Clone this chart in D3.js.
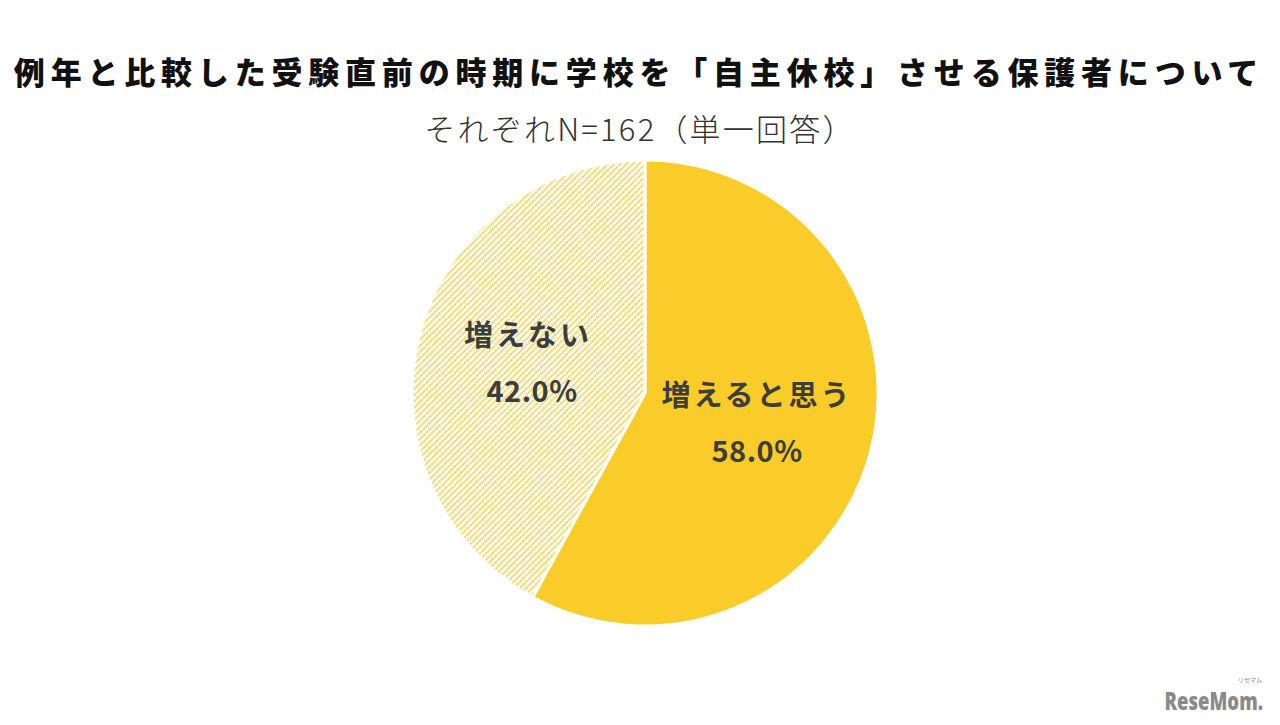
<!DOCTYPE html>
<html><head><meta charset="utf-8">
<script src="https://cdn.jsdelivr.net/npm/d3@7"></script>
<style>body{margin:0;background:#fff}svg{display:block}</style>
</head><body>
<svg id="c" width="1280" height="725"></svg>
<script>
const titleText = "例年と比較した受験直前の時期に学校を「自主休校」させる保護者について";
const subtitleText = "それぞれN=162（単一回答）";
const categories = ["増えると思う", "増えない"];
const values = [58.0, 42.0];
const labelTexts = ["58.0%", "42.0%"];

const svg = d3.select("#c");
const jp = "'Noto Sans CJK JP','Noto Sans CJK SC',sans-serif";

const defs = svg.append("defs");
const pat = defs.append("pattern").attr("id","hatch").attr("patternUnits","userSpaceOnUse")
  .attr("width",4.4).attr("height",4.4).attr("patternTransform","rotate(45)");
pat.append("line").attr("x1",1.1).attr("y1",0).attr("x2",1.1).attr("y2",4.4)
  .attr("stroke","#efcf4f").attr("stroke-width",2.2).attr("stroke-dasharray","1.6,0.6");

svg.append("text").attr("x",639).attr("y",84).attr("text-anchor","middle")
  .attr("font-family",jp).attr("font-weight",900).attr("font-size",31)
  .attr("letter-spacing",5.8).attr("fill","#111").text(titleText);
svg.append("text").attr("x",640).attr("y",141).attr("text-anchor","middle")
  .attr("font-family",jp).attr("font-weight",300).attr("font-size",31)
  .attr("letter-spacing",2.2).attr("fill","#333").text(subtitleText);

const cx = 645, cy = 393, r = 233;
const pie = d3.pie().sort(null).value(d=>d)(values);
const arc = d3.arc().innerRadius(0).outerRadius(r);
const fills = ["#f9cc2a","url(#hatch)"];
const g = svg.append("g").attr("transform",`translate(${cx},${cy})`);
g.selectAll("path").data(pie).join("path").attr("d",arc)
  .attr("fill",(d,i)=>fills[i]).attr("stroke","#fff").attr("stroke-width",3);

// label anchor offsets relative to pie centre
const labelPos = [[112, 13], [-117, -47]];
pie.forEach((d,i)=>{
  const [ox, oy] = labelPos[i];
  g.append("text").attr("text-anchor","middle").attr("x",ox).attr("y",oy)
    .attr("font-family",jp).attr("font-weight",700).attr("font-size",29)
    .attr("letter-spacing",3).attr("fill","#3d3d3d").text(categories[i]);
  g.append("text").attr("text-anchor","middle").attr("x",ox+(i===1?4:0)).attr("y",oy+56)
    .attr("font-family",jp).attr("font-weight",700).attr("font-size",29)
    .attr("letter-spacing",0.5).attr("fill","#3d3d3d").text(labelTexts[i]);
});

const logo = svg.append("g").attr("transform","translate(1263,710) scale(0.74,1)");
logo.append("text").attr("x",0).attr("y",0).attr("text-anchor","end")
  .attr("font-family","'Open Sans',sans-serif").attr("font-weight",800).attr("font-size",25)
  .attr("fill","#8a8a8a").text("ReseMom.");
svg.append("text").attr("x",1262).attr("y",682).attr("text-anchor","end")
  .attr("font-family",jp).attr("font-size",6).attr("fill","#8a8a8a").text("リセマム");
</script>
</body></html>
